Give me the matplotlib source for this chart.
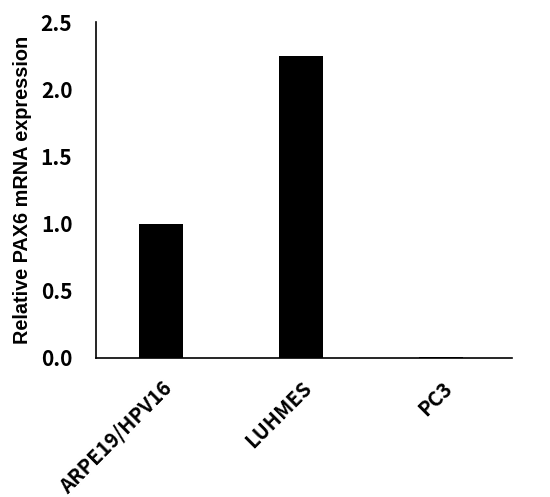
import matplotlib
matplotlib.use("Agg")
import matplotlib.pyplot as plt

plt.rcParams['font.family'] = ['Noto Sans CJK JP', 'DejaVu Sans']

categories = ["ARPE19/HPV16", "LUHMES", "PC3"]
values = [1.0, 2.25, 0.005]
yticks = [0.0, 0.5, 1.0, 1.5, 2.0, 2.5]
ylabel = "Relative PAX6 mRNA expression"

fig = plt.figure(figsize=(5.5, 4.97), dpi=100)
ax = fig.add_axes([0.1745, 0.2797, 0.7565, 0.676])
x = list(range(len(categories)))
ax.bar(x, values, width=0.32, color="black")
ax.set_xlim(-0.464, 2.507)
ax.set_ylim(0, 2.5)
ax.set_yticks(yticks)
ax.set_yticklabels([f"{v:.1f}" for v in yticks], fontsize=15, fontweight='bold')
ax.set_xticks(x)
ax.set_xticklabels(categories, rotation=45, ha='right', rotation_mode='anchor',
                   fontsize=14.5, fontweight='bold')
ax.tick_params(axis='y', length=0, pad=17)
ax.tick_params(axis='x', length=0, pad=14)
ax.spines['top'].set_visible(False)
ax.spines['right'].set_visible(False)
ax.spines['left'].set_linewidth(1.2)
ax.spines['bottom'].set_linewidth(1.2)
ax.set_ylabel(ylabel, fontsize=14.3, fontweight='bold', family='Liberation Sans')
ax.yaxis.set_label_coords(-0.154, 0.5)
fig.savefig("out.png", dpi=100)
